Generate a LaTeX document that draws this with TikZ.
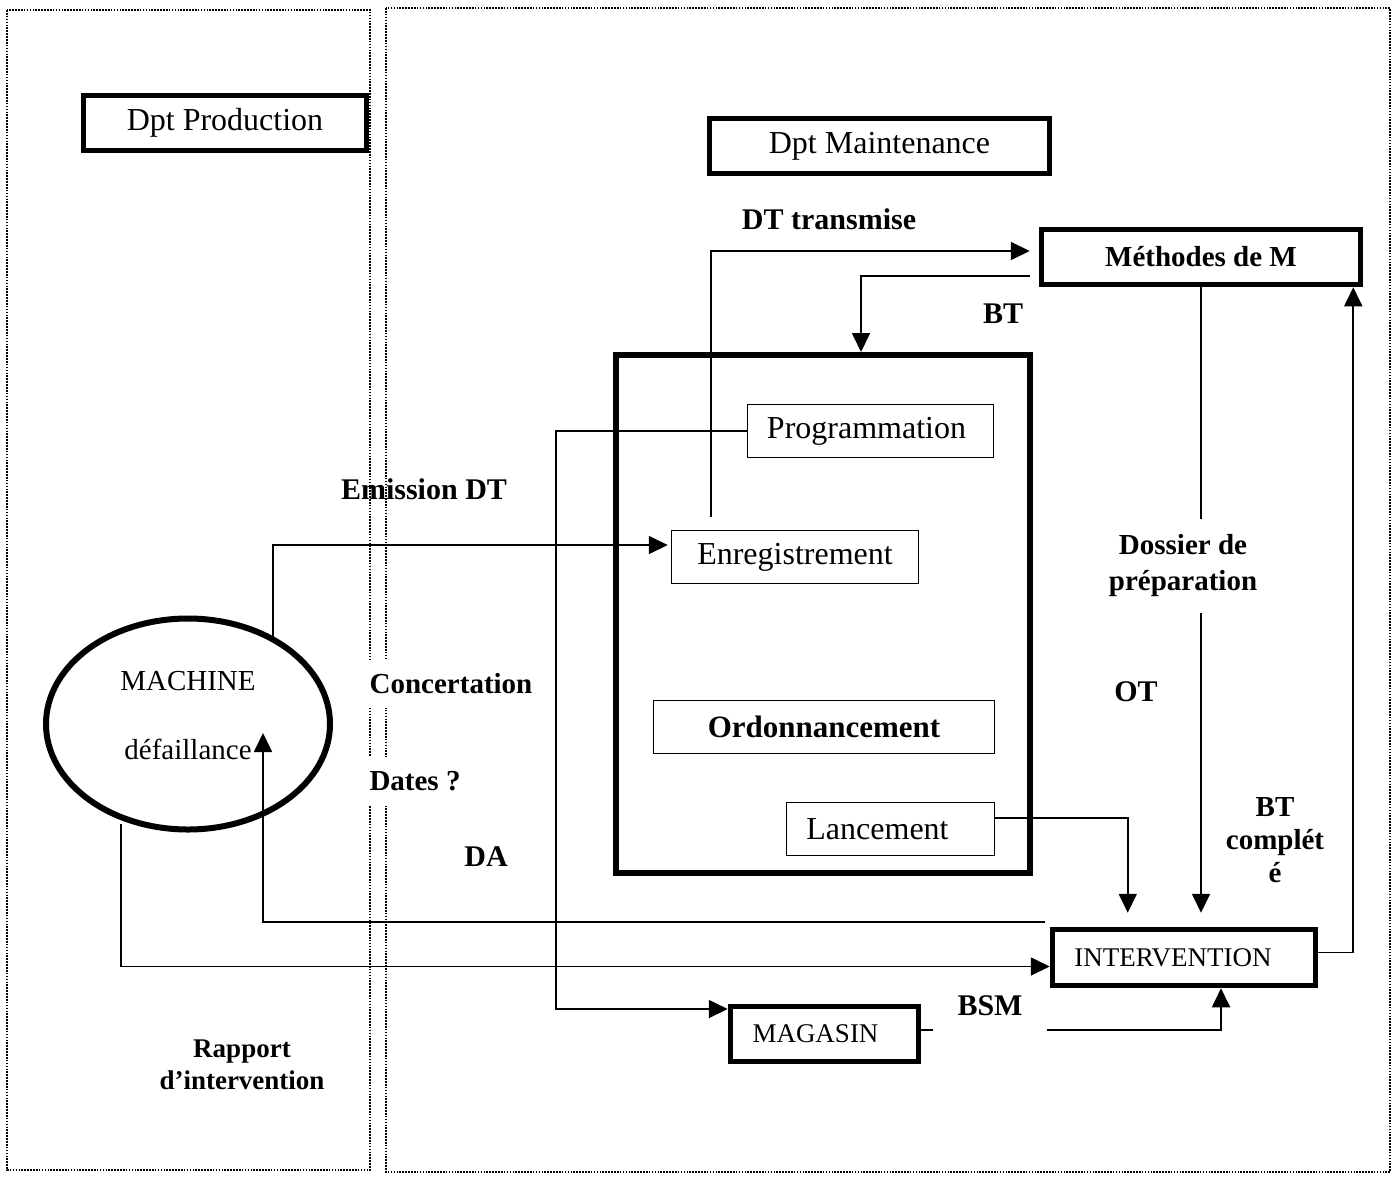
\documentclass[tikz,border=0pt]{standalone}
\usepackage{fontspec}
\setmainfont{Liberation Serif}
\usetikzlibrary{arrows.meta,shapes.geometric,calc}
\begin{document}
\begin{tikzpicture}[x=1pt,y=-1pt,
  panel/.style={line width=1.8pt,dash pattern=on 1.6pt off 1.3pt},
  heavybox/.style={draw,line width=5.5pt,inner sep=0pt,font=\fontsize{32}{36}\selectfont},
  lightbox/.style={draw,line width=1.5pt,inner sep=0pt,font=\fontsize{32}{36}\selectfont},
  tag/.style={font=\fontsize{30}{34}\selectfont\bfseries,inner sep=0pt,align=center},
  plain/.style={font=\fontsize{29}{34}\selectfont,inner sep=0pt},
  wire/.style={line width=1.8pt},
  conn/.style={wire,-{Triangle[length=19pt,width=18pt]}},
]
\useasboundingbox (0,0) rectangle (1397,1176);

% department panels
\draw[panel] (7,10) rectangle (370,1170);
\draw[panel] (386,8) rectangle (1390,1172);

% department titles
\node[heavybox,minimum width=283pt,minimum height=55pt] (prod) at (225,123) {\raisebox{-3pt}{Dpt Production}};
\node[heavybox,minimum width=340pt,minimum height=55pt] (maint) at (879.5,146) {\raisebox{-2pt}{Dpt Maintenance}};
\node[heavybox,minimum width=319pt,minimum height=55pt,font=\fontsize{29}{34}\selectfont\bfseries] (meth) at (1201,257) {Méthodes de M};

% scheduling block
\node[draw,line width=6pt,minimum width=414pt,minimum height=518pt,inner sep=0pt] (bigbox) at (823,614) {};
\node[lightbox,minimum width=246pt,minimum height=53pt] (prog) at (870.5,431) {\hspace*{-8pt}Programmation};
\node[lightbox,minimum width=247pt,minimum height=53pt] (enreg) at (795,557) {Enregistrement};
\node[lightbox,minimum width=341pt,minimum height=53pt,font=\fontsize{31}{36}\selectfont\bfseries] (ordo) at (824,727) {Ordonnancement};
\node[lightbox,minimum width=208pt,minimum height=53pt] (lanc) at (890.5,829) {\hspace*{-26pt}Lancement};

% machine
\node[draw,ellipse,line width=6pt,minimum width=284pt,minimum height=211pt,inner sep=0pt] (machine) at (188,724) {};
\node[plain] (machname) at (188,681) {MACHINE};
\node[plain] (machfail) at (188,749) {défaillance};

% execution
\node[heavybox,minimum width=263pt,minimum height=56pt,font=\fontsize{27}{32}\selectfont] (interv) at (1184,957.5) {\hspace*{-22pt}INTERVENTION};
\node[heavybox,minimum width=188pt,minimum height=55pt,font=\fontsize{27}{32}\selectfont] (mag) at (824.5,1034) {\hspace*{-18pt}MAGASIN};

% flows
\draw[conn] ($(machine.center)+(85,-86)$) |- ($(enreg.west)+(-3,-12)$);
\draw[conn] ($(enreg.north west)+(40,-13)$) |- ($(meth.west)+(-9,-6)$);
\draw[conn] ($(meth.west)+(-9,19)$) -| ($(bigbox.north west)+(248,0)$);
\draw[conn] (prog.west) -- ++(-191,0) |- ($(mag.west)+(0,-25)$);
\draw[conn,shorten >=14pt] (meth.south) -- (meth.south |- interv.north);
\draw[conn,shorten >=14pt] ($(lanc.east)+(0,-11)$) -| ($(interv.north west)+(78,0)$);
\draw[conn] ($(interv.east)+(0,-5)$) -| ($(meth.south east)+(-10,0)$);
\draw[conn] ($(interv.north west)+(-5,-5)$) -| ($(machine.center)+(75,9)$);
\draw[conn] ($(machine.center)+(-67,100)$) |- ($(interv.west)+(0,9)$);
\coordinate (bsmL) at ($(mag.east)+(12,-4)$);
\coordinate (bsmR) at ($(mag.east)+(126,-4)$);
\draw[wire] ($(mag.east)+(0,-4)$) -- (bsmL);
\draw[conn] (bsmR) -| ($(interv.south)+(37,0)$);

% flow labels
\node[tag] (ldt) at (829,219) {DT transmise};
\node[tag] (lbt) at (1003,314) {BT};
\node[tag] (lemis) at (424,489) {Emission DT};
\node[tag,fill=white,inner xsep=4pt,inner ysep=16pt,font=\fontsize{29}{36}\selectfont\bfseries] (ldos) at (1183,566) {Dossier de\\préparation};
\node[tag] (lot) at (1136,692) {OT};
\node[tag,font=\fontsize{29}{33}\selectfont\bfseries] (lbtc) at (1275,840) {BT\\complét\\é};
\node[tag,fill=white,inner xsep=4pt,inner ysep=14pt,font=\fontsize{29}{34}\selectfont\bfseries] (lconc) at (451,684) {Concertation};
\node[tag,fill=white,inner xsep=4pt,inner ysep=14pt,font=\fontsize{29}{34}\selectfont\bfseries] (ldates) at (415,781) {Dates ?};
\node[tag] (lda) at (486,857) {DA};
\node[tag] (lbsm) at (990,1006) {BSM};
\node[tag,font=\fontsize{27}{32}\selectfont\bfseries] (lrap) at (242,1065) {Rapport\\d’intervention};
\end{tikzpicture}
\end{document}
